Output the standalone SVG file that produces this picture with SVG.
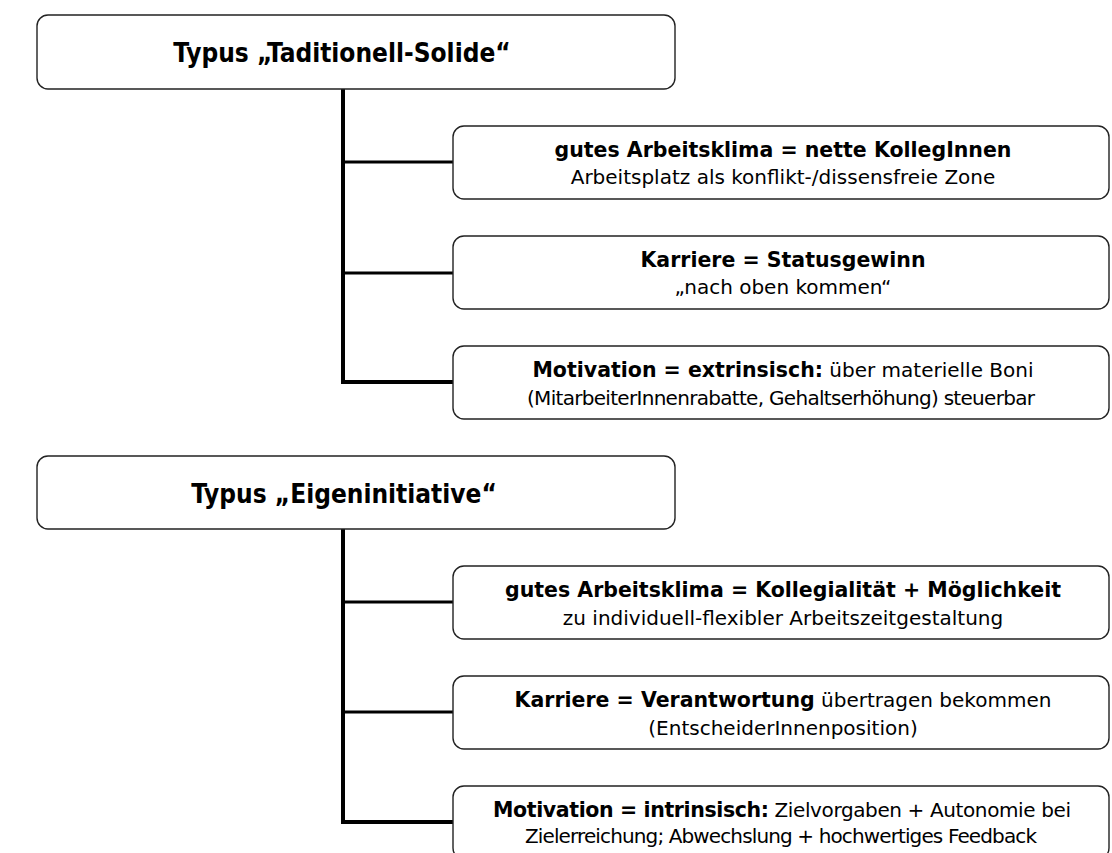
<svg xmlns="http://www.w3.org/2000/svg" width="1112" height="853" viewBox="0 0 1112 853">
<style>
.box{fill:#fff;stroke:#222;stroke-width:1.4}
.t{font-family:"DejaVu Sans","Liberation Sans",sans-serif;font-size:20px;fill:#000;text-anchor:middle}
.title{font-family:"DejaVu Sans Condensed","DejaVu Sans",sans-serif;font-size:26px;font-weight:bold;fill:#000;text-anchor:middle}
.b{font-weight:bold;font-size:20.5px}
.c{fill:none;stroke:#000;stroke-width:4}
.c3{fill:none;stroke:#000;stroke-width:3}
</style>
<rect width="1112" height="853" fill="#fff"/>
<g id="connectors">
<path class="c" d="M343 89 V382 H453"/>
<path class="c3" d="M343 162 H453 M343 273 H453"/>
<path class="c" d="M343 529 V822 H453"/>
<path class="c3" d="M343 602 H453 M343 712 H453"/>
</g>
<g id="typ1">
<rect class="box" x="37" y="15" width="638" height="74" rx="11"/>
<text class="title" x="342" y="62">Typus „Taditionell-Solide“</text>
</g>
<g id="typ1-klima">
<rect class="box" x="453" y="126" width="656" height="73" rx="11"/>
<text class="t" x="783" y="157"><tspan class="b">gutes Arbeitsklima = nette KollegInnen</tspan></text>
<text class="t" x="783" y="184">Arbeitsplatz als konflikt-/dissensfreie Zone</text>
</g>
<g id="typ1-karriere">
<rect class="box" x="453" y="236" width="656" height="73" rx="11"/>
<text class="t" x="783" y="267"><tspan class="b">Karriere = Statusgewinn</tspan></text>
<text class="t" x="783" y="294">„nach oben kommen“</text>
</g>
<g id="typ1-motivation">
<rect class="box" x="453" y="346" width="656" height="73" rx="11"/>
<text class="t" x="783" y="377"><tspan class="b">Motivation = extrinsisch:</tspan> über materielle Boni</text>
<text class="t" x="781" y="405" textLength="508">(MitarbeiterInnenrabatte, Gehaltserhöhung) steuerbar</text>
</g>
<g id="typ2">
<rect class="box" x="37" y="456" width="638" height="73" rx="11"/>
<text class="title" x="344" y="503">Typus „Eigeninitiative“</text>
</g>
<g id="typ2-klima">
<rect class="box" x="453" y="566" width="656" height="73" rx="11"/>
<text class="t" x="783" y="597"><tspan class="b">gutes Arbeitsklima = Kollegialität + Möglichkeit</tspan></text>
<text class="t" x="783" y="625">zu individuell-flexibler Arbeitszeitgestaltung</text>
</g>
<g id="typ2-karriere">
<rect class="box" x="453" y="676" width="656" height="73" rx="11"/>
<text class="t" x="783" y="707"><tspan class="b">Karriere = Verantwortung</tspan> übertragen bekommen</text>
<text class="t" x="783" y="735">(EntscheiderInnenposition)</text>
</g>
<g id="typ2-motivation">
<rect class="box" x="453" y="786" width="656" height="73" rx="11"/>
<text class="t" x="782" y="817" textLength="578"><tspan class="b">Motivation = intrinsisch:</tspan> Zielvorgaben + Autonomie bei</text>
<text class="t" x="781" y="843" textLength="512">Zielerreichung; Abwechslung + hochwertiges Feedback</text>
</g>
</svg>
